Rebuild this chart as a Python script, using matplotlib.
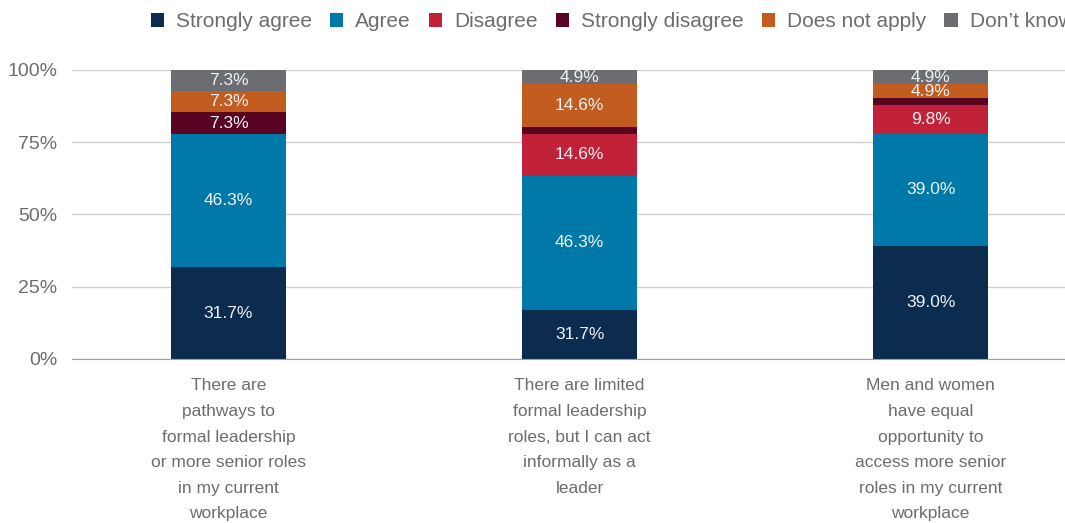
import numpy as np
import matplotlib.pyplot as plt
from matplotlib.patches import Patch

plt.rcParams['font.family'] = ['Liberation Sans', 'DejaVu Sans']

categories = [
    "There are\npathways to\nformal leadership\nor more senior roles\nin my current\nworkplace",
    "There are limited\nformal leadership\nroles, but I can act\ninformally as a\nleader",
    "Men and women\nhave equal\nopportunity to\naccess more senior\nroles in my current\nworkplace",
]
responses = ["Strongly agree", "Agree", "Disagree", "Strongly disagree",
             "Does not apply", "Don\u2019t know"]

strongly_agree = [31.7, 17.1, 39.0]
agree = [46.3, 46.3, 39.0]
disagree = [0.0, 14.6, 9.8]
strongly_disagree = [7.3, 2.4, 2.4]
does_not_apply = [7.3, 14.6, 4.9]
dont_know = [7.3, 4.9, 4.9]

# printed label for the first segment of each bar (as published)
strongly_agree_text = ["31.7%", "31.7%", "39.0%"]

colors = ["#0b2c4f", "#0079a8", "#c22239", "#5a0424", "#c35d1f", "#6b6d72"]
series = [strongly_agree, agree, disagree, strongly_disagree,
          does_not_apply, dont_know]

fig = plt.figure(figsize=(10.65, 5.23), dpi=100)
ax = fig.add_axes([0.0676, 0.3136, 0.9324, 0.5526])

x = np.arange(len(categories))
width = 0.328
bottom = np.zeros(len(categories))
grey = "#6d6d6d"

for i, (vals, col) in enumerate(zip(series, colors)):
    vals = np.array(vals)
    ax.bar(x, vals, width, bottom=bottom, color=col, zorder=3)
    for j, v in enumerate(vals):
        if v >= 4:
            txt = strongly_agree_text[j] if i == 0 else "%.1f%%" % v
            ax.text(x[j], bottom[j] + v / 2, txt, ha="center", va="center",
                    color="#eef2f5", fontsize=12.5, zorder=4)
    bottom += vals

ax.set_xlim(-0.446, 2.383)
ax.set_ylim(0, 100)
ax.set_yticks([0, 25, 50, 75, 100])
ax.set_yticklabels(["0%", "25%", "50%", "75%", "100%"])
ax.grid(axis="y", color="#d0d0d0", linewidth=1, zorder=0)
ax.set_xticks(x)
ax.set_xticklabels(categories, linespacing=1.88)
ax.tick_params(axis="both", length=0, labelcolor=grey)
ax.tick_params(axis="y", pad=10.5, labelsize=14)
ax.tick_params(axis="x", pad=14, labelsize=12.5)
for s in ["top", "right", "left"]:
    ax.spines[s].set_visible(False)
ax.spines["bottom"].set_color("#a0a0a0")
ax.spines["bottom"].set_zorder(5)

handles = [Patch(facecolor=c, edgecolor="none") for c in colors]
fig.legend(handles, responses, loc="upper left", bbox_to_anchor=(0.124, 1.012),
           ncol=6, frameon=False, fontsize=15, labelcolor=grey,
           handlelength=0.63, handleheight=0.63, handletextpad=0.58,
           columnspacing=0.87)

fig.savefig("out.png", dpi=100)
